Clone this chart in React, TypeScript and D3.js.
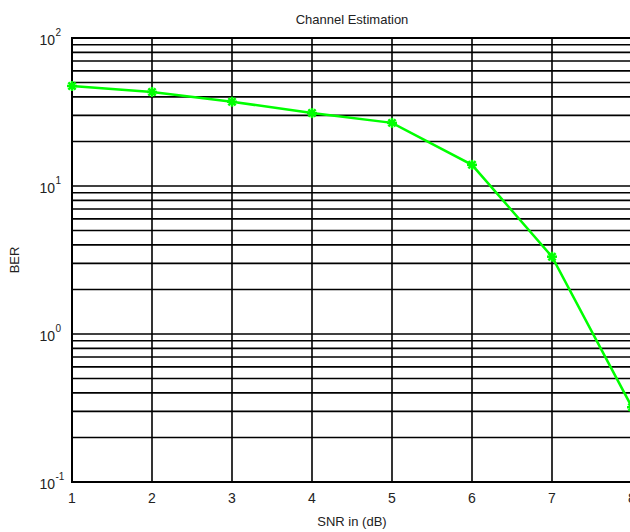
import React from "react";
import * as d3 from "d3";

const snr = [1, 2, 3, 4, 5, 6, 7, 8];
const ber = [47.4, 43.2, 37.1, 31.1, 26.7, 13.9, 3.33, 0.32];
const xTicks = [1, 2, 3, 4, 5, 6, 7, 8];
const yDecades = [-1, 0, 1, 2];

const W = 630, H = 532;
const M = { left: 72, top: 38, right: 632, bottom: 482 };

export default function App() {
  const x = d3.scaleLinear().domain([1, 8]).range([M.left, M.right]);
  const y = d3.scaleLog().domain([0.1, 100]).range([M.bottom, M.top]);
  const minor: number[] = [];
  for (let e = -1; e < 2; e++) for (let k = 2; k <= 9; k++) minor.push(k * Math.pow(10, e));
  const line = d3.line<number>().x((_, i) => x(snr[i])).y((d) => y(d));
  const font = "Liberation Sans, Arial, sans-serif";
  const star = (cx: number, cy: number, i: number) => {
    const r = 5;
    const d = 3.6;
    return (
      <g key={i} stroke="#00ff00" strokeWidth={2.5}>
        <line x1={cx - r} y1={cy} x2={cx + r} y2={cy} />
        <line x1={cx} y1={cy - r} x2={cx} y2={cy + r} />
        <line x1={cx - d} y1={cy - d} x2={cx + d} y2={cy + d} />
        <line x1={cx - d} y1={cy + d} x2={cx + d} y2={cy - d} />
      </g>
    );
  };
  return (
    <svg width={W} height={H} style={{ position: "absolute", left: 0, top: 0, background: "#fff" }}>
      <rect x={0} y={0} width={W} height={H} fill="#fff" />
      <g stroke="#000" strokeWidth={1.6}>
        {minor.map((v, i) => (
          <line key={"m" + i} x1={M.left} x2={M.right} y1={y(v)} y2={y(v)} />
        ))}
        {yDecades.map((e) => (
          <line key={"d" + e} x1={M.left} x2={M.right} y1={y(Math.pow(10, e))} y2={y(Math.pow(10, e))} />
        ))}
        {xTicks.map((t) => (
          <line key={"x" + t} x1={x(t)} x2={x(t)} y1={M.top} y2={M.bottom} />
        ))}
      </g>
      <rect x={M.left} y={M.top} width={M.right - M.left} height={M.bottom - M.top} fill="none" stroke="#000" strokeWidth={2} />
      <path d={line(ber) || ""} fill="none" stroke="#00ff00" strokeWidth={2.5} />
      {ber.map((v, i) => star(x(snr[i]), y(v), i))}
      <g fontFamily={font} fill="#222">
        {xTicks.map((t) => (
          <text key={"xl" + t} x={x(t)} y={503} fontSize={14} textAnchor="middle">
            {t}
          </text>
        ))}
        {yDecades.map((e) => (
          <g key={"yl" + e}>
            <text x={55} y={y(Math.pow(10, e)) + 7} fontSize={14} textAnchor="end">
              10
            </text>
            <text x={55.5} y={y(Math.pow(10, e)) - 2} fontSize={10} textAnchor="start">
              {e}
            </text>
          </g>
        ))}
        <text x={352} y={24} fontSize={13} textAnchor="middle">
          Channel Estimation
        </text>
        <text x={352} y={526} fontSize={13} textAnchor="middle">
          SNR in (dB)
        </text>
        <text transform={`translate(19,${(M.top + M.bottom) / 2}) rotate(-90)`} fontSize={13} textAnchor="middle">
          BER
        </text>
      </g>
    </svg>
  );
}
